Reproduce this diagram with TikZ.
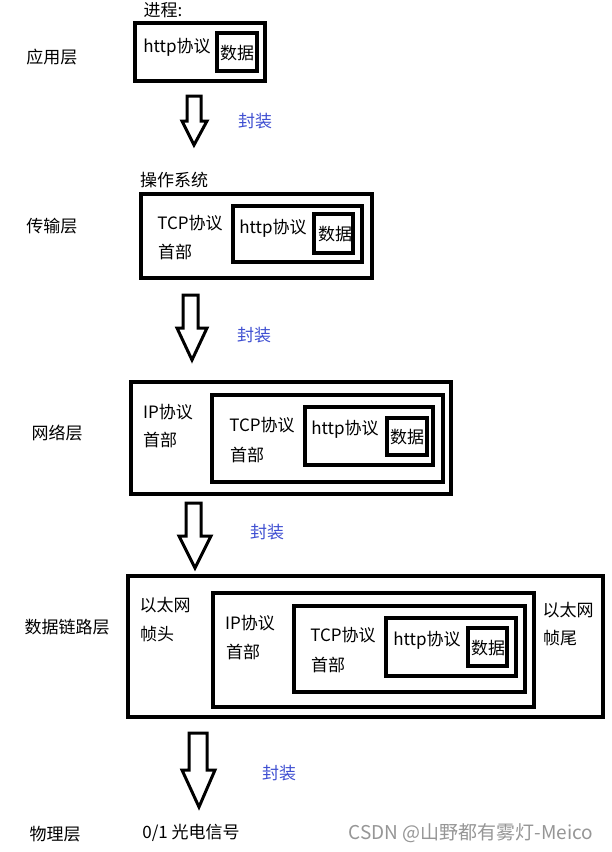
\documentclass[tikz,border=0pt]{standalone}
\usepackage{fontspec}
\setmainfont{Noto Sans CJK SC}
\usepackage{tikz}
\definecolor{fzblue}{RGB}{64,80,210}
\definecolor{wmgray}{RGB}{150,150,150}

\begin{document}
\begin{tikzpicture}[x=1pt, y=-1pt,
  txt/.style={inner sep=0pt, font=\fontsize{17}{19}\selectfont},
  fz/.style={txt, text=fzblue},
  pkt/.style={line width=3.5pt},
  down/.style={line width=3pt, line join=miter}]
\fill[white] (0,0) rectangle (611,852);
\useasboundingbox (0,0) rectangle (611,852);

% layer names
\node[txt] (app) at (52, 57) {应用层};
\node[txt] (trans) at (52, 226) {传输层};
\node[txt] (net) at (57, 433) {网络层};
\node[txt] (link) at (67, 627) {数据链路层};
\node[txt] (phys) at (55, 834) {物理层};

% application layer
\node[txt] (app-proc) at (163, 10) {进程:};
\draw[pkt] (135,23) rectangle (265,81);
\draw[pkt] (217,33) rectangle (257,71);
\node[txt] (app-http) at (177, 47) {http协议};
\node[txt] (app-data) at (237, 53) {数据};

\draw[down] (187,96) -- (187,121) -- (182,121) -- (194,145) -- (207,121) -- (201,121) -- (201,96) -- cycle;
\node[fz] (fz-1) at (255, 121) {封装};

% transport layer
\node[txt] (trans-os) at (174, 180) {操作系统};
\draw[pkt] (141,194) rectangle (372,278);
\draw[pkt] (233,206) rectangle (362,262);
\draw[pkt] (314,214) rectangle (353,253);
\node[txt] (trans-tcp) at (190, 223) {TCP协议};
\node[txt] (trans-hd) at (175, 252) {首部};
\node[txt] (trans-http) at (273, 228) {http协议};
\node[txt] (trans-data) at (335, 234) {数据};

\draw[down] (183,295) -- (183,328) -- (177,328) -- (192,360) -- (207,328) -- (198,328) -- (198,295) -- cycle;
\node[fz] (fz-2) at (254, 335) {封装};

% network layer
\node[txt] (net-ip) at (168, 412) {IP协议};
\node[txt] (net-iphd) at (160, 440) {首部};
\draw[pkt] (131,382) rectangle (451,494);
\draw[pkt] (212,395) rectangle (443,482);
\draw[pkt] (305,407) rectangle (433,465);
\draw[pkt] (387,418) rectangle (427,455);
\node[txt] (net-tcp) at (262, 425) {TCP协议};
\node[txt] (net-tcphd) at (247, 455) {首部};
\node[txt] (net-http) at (345, 429) {http协议};
\node[txt] (net-data) at (407, 437) {数据};

\draw[down] (186,503) -- (186,536) -- (179,536) -- (195,568) -- (211,536) -- (201,536) -- (201,503) -- cycle;
\node[fz] (fz-3) at (267, 532) {封装};

% data link layer
\node[txt] (link-eth1) at (165, 605) {以太网};
\node[txt] (link-head) at (157, 634) {帧头};
\node[txt] (link-eth2) at (568, 610) {以太网};
\node[txt] (link-tail) at (560, 638) {帧尾};
\draw[pkt] (128,576) rectangle (603,717);
\draw[pkt] (213,593) rectangle (534,707);
\draw[pkt] (294,606) rectangle (525,692);
\draw[pkt] (386,618) rectangle (516,676);
\draw[pkt] (468,628) rectangle (507,666);
\node[txt] (link-ip) at (250, 623) {IP协议};
\node[txt] (link-iphd) at (243, 652) {首部};
\node[txt] (link-tcp) at (343, 635) {TCP协议};
\node[txt] (link-tcphd) at (328, 665) {首部};
\node[txt] (link-http) at (427, 640) {http协议};
\node[txt] (link-data) at (488, 648) {数据};

\draw[down] (189,733) -- (189,770) -- (182,770) -- (199,807) -- (215,770) -- (207,770) -- (207,733) -- cycle;
\node[fz] (fz-4) at (279, 773) {封装};

% physical layer
\node[txt] (phys-sig) at (191, 833) {0/1 光电信号};

\node[txt, text=wmgray, font=\fontsize{19}{21}\selectfont] (mark) at (471, 833) {CSDN @山野都有雾灯-Meico};
\end{tikzpicture}
\end{document}
